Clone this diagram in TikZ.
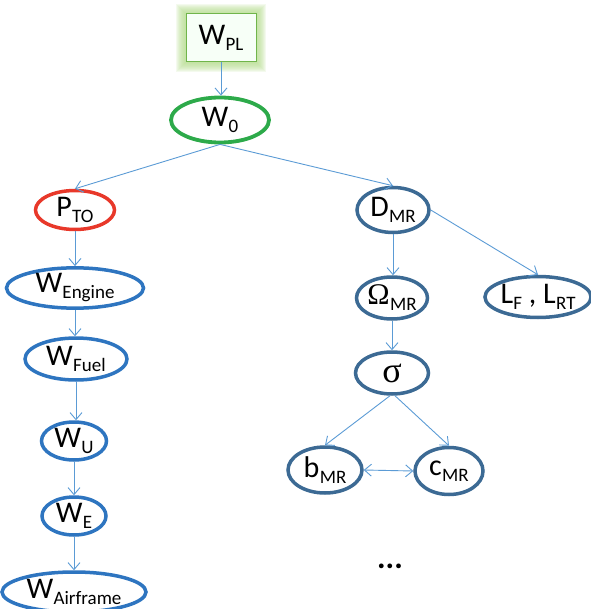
\documentclass[tikz,border=0pt]{standalone}
\usepackage{fontspec}
\setmainfont{Carlito}
\newfontfamily\greekfont{Liberation Serif}
\usetikzlibrary{shapes.geometric,arrows.meta}
\definecolor{linkblue}{HTML}{5B9BD5}
\definecolor{leftblue}{HTML}{2E75C0}
\definecolor{rightblue}{HTML}{3C6A94}
\definecolor{rootgreen}{HTML}{2DAA4A}
\definecolor{boxgreen}{HTML}{70B54A}
\definecolor{glowgreen}{HTML}{B5DC8E}
\definecolor{hotred}{HTML}{E8382A}
% letter with a lowered, smaller index
\newcommand\sbs[2]{#1\kern0.3pt\raisebox{-6pt}{\fontsize{19}{19}\selectfont #2}}
\tikzset{
  oval/.style={ellipse, draw, line width=3.5pt, inner sep=0pt, font=\fontsize{30}{30}\selectfont},
  leftoval/.style={oval, draw=leftblue},
  rightoval/.style={oval, draw=rightblue},
  link/.style={draw=linkblue, line width=0.9pt, -{Straight Barb[length=7pt,width=12pt]}},
  duallink/.style={link, {Straight Barb[length=7pt,width=12pt]}-{Straight Barb[length=7pt,width=12pt]}}
}
\begin{document}
\begin{tikzpicture}[x=1pt, y=-1pt]
\useasboundingbox (0,0) rectangle (590,609);

% soft glow around the payload box
\foreach \g in {10,9,...,1}
  \fill[glowgreen, opacity=0.15] (186-\g,14-\g) rectangle (256+\g,62+\g);
\node[draw=boxgreen, fill=green!3, line width=1pt, minimum width=70pt, minimum height=48pt,
      inner sep=0pt, font=\fontsize{30}{30}\selectfont] (wpl) at (221,38) {\sbs{W}{PL}};

\node[oval, draw=rootgreen, line width=3.8pt, minimum width=98pt, minimum height=45pt] (w0) at (220,120) {\sbs{W}{0}};

% left branch
\node[oval, draw=hotred, minimum width=79pt, minimum height=39pt] (pto) at (75,210) {\sbs{P}{TO}};
\node[leftoval, minimum width=137pt, minimum height=40pt] (weng) at (75,288) {\sbs{W}{Engine}};
\node[leftoval, minimum width=102pt, minimum height=42pt] (wfuel) at (76,359) {\sbs{W}{Fuel}};
\node[leftoval, minimum width=65pt, minimum height=38pt] (wu) at (74,441) {\sbs{W}{U}};
\node[leftoval, minimum width=64pt, minimum height=38pt] (we) at (74,516) {\sbs{W}{E}};
\node[leftoval, minimum width=144pt, minimum height=40pt] (wair) at (74,592) {\sbs{W}{Airframe}};

% right branch
\node[rightoval, minimum width=72pt, minimum height=45pt] (dmr) at (393,210) {\sbs{D}{MR}};
\node[rightoval, minimum width=71pt, minimum height=42pt] (omr) at (392,298) {\sbs{{\greekfont Ω}}{MR}};
\node[rightoval, minimum width=100pt, minimum height=41pt] (lf) at (538,297) {\sbs{L}{F} , \sbs{L}{RT}};
\node[rightoval, minimum width=73pt, minimum height=42pt] (sig) at (392,373) {{\greekfont\fontsize{36}{36}\selectfont σ}};
\node[rightoval, minimum width=74pt, minimum height=46pt] (bmr) at (325,470) {\sbs{b}{MR}};
\node[rightoval, minimum width=68pt, minimum height=47pt] (cmr) at (449,471) {\sbs{c}{MR}};
\node[font=\fontsize{32}{32}\selectfont\bfseries] (more) at (390,566) {...};

% connectors
\draw[link] (wpl.south) -- (w0.north -| wpl.south);
\draw[link] (w0.south) -- (pto.north);
\draw[link] (w0.south) -- (dmr.north);
\draw[link] (pto.south) -- (weng.north);
\draw[link] (weng.south) -- (wfuel.north -| weng.south);
\draw[link] (wfuel.south) -- (wu.north -| wfuel.south);
\draw[link] (wu.south) -- (we.north -| wu.south);
\draw[link] (we.south) -- (wair.north -| we.south);
\draw[link] (dmr.south) -- (omr.north -| dmr.south);
\draw[link] (dmr.east) -- (lf.north);
\draw[link] (omr.south) -- (sig.north -| omr.south);
\draw[link] ([xshift=-2pt]sig.south) -- (bmr.north);
\draw[link] ([xshift=3pt]sig.south) -- (cmr.north);
\draw[duallink] (bmr.east) -- (cmr.west);
\end{tikzpicture}
\end{document}
